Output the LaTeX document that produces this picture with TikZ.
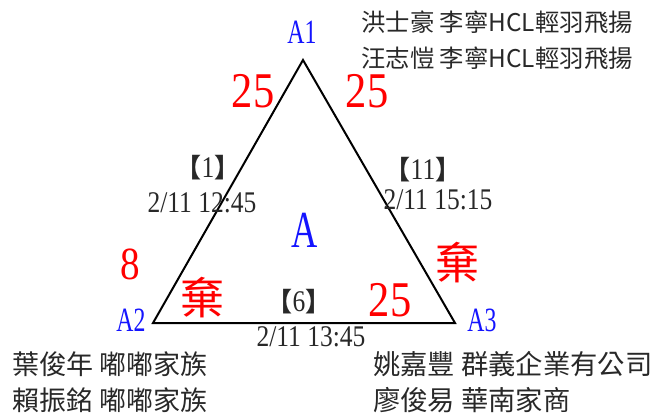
\documentclass[tikz,border=0pt]{standalone}
\usepackage{fontspec}
\setmainfont{Liberation Serif}
\newfontfamily\numfont[FakeStretch=0.85]{Liberation Serif}
\newfontfamily\tagfont[FakeStretch=0.7]{Liberation Serif}
\newfontfamily\cjkfont{Noto Sans CJK TC}
\usetikzlibrary{positioning}
\definecolor{scorered}{RGB}{255,0,0}
\definecolor{seatblue}{RGB}{20,20,255}
\definecolor{inkgray}{RGB}{40,40,40}
\newcommand\gnum[1]{{\cjkfont\bfseries\fontsize{26}{26}\selectfont 【}#1{\cjkfont\bfseries\fontsize{26}{26}\selectfont 】}}
\tikzset{
    score/.style={
        text=scorered,inner sep=0pt,
        font=\numfont\fontsize{50}{50}\selectfont
    },
    seat/.style={
        text=seatblue,inner sep=0pt,
        font=\tagfont\fontsize{34}{34}\selectfont
    },
    forfeit/.style={
        text=scorered,inner sep=0pt,
        font=\cjkfont\fontsize{44}{44}\selectfont
    },
    gametime/.style={
        text=inkgray,inner sep=0pt,
        font=\numfont\fontsize{30}{30}\selectfont
    },
    player/.style={
        text=inkgray,inner sep=0pt,anchor=base west,
        font=\cjkfont\fontsize{#1}{#1}\selectfont
    },
    player/.default=24.4,
    edge/.style={
        draw=black,line width=2pt
    }
}

\begin{document}
\begin{tikzpicture}[x=1pt,y=-1pt]
\useasboundingbox (0,0) rectangle (654,416);

\coordinate (a1) at (303,60);
\coordinate (a2) at (153,323);
\coordinate (a3) at (455,323);
\draw[edge] (a1) -- (a2) -- (a3) -- cycle;

\node[seat] (seatA1) at (302,32) {A1};
\node[seat] (seatA2) at (131,320) {A2};
\node[seat] (seatA3) at (482,320) {A3};
\node[seat,font=\tagfont\fontsize{52}{52}\selectfont] (table) at (305,230) {A};

\node[score] (s12) at (253,91) {25};
\node[score] (s13) at (367,91) {25};
\node[score,font=\numfont\fontsize{46}{46}\selectfont] (s21) at (130,264) {8};
\node[forfeit] (s23) at (202,298) {棄};
\node[forfeit] (s31) at (457,263) {棄};
\node[score] (s32) at (390,300) {25};

\node[gametime] (g1) at (208,168) {\gnum{1}};
\node[gametime] (t1) at (202,203) {2/11 12:45};
\node[gametime] (g11) at (423,170) {\gnum{11}};
\node[gametime] (t11) at (438,200) {2/11 15:15};
\node[gametime] (g6) at (299,302) {\gnum{6}};
\node[gametime] (t6) at (311,337) {2/11 13:45};

\node[player] (p1a) at (361,31) {洪士豪 李寧HCL輕羽飛揚};
\node[player] (p1b) at (361,67) {汪志愷 李寧HCL輕羽飛揚};
\node[player=27] (p2a) at (12,374) {葉俊年 嘟嘟家族};
\node[player=27] (p2b) at (12,410) {賴振銘 嘟嘟家族};
\node[player=27.3] (p3a) at (373,374) {姚嘉豐 群義企業有公司};
\node[player=27.3] (p3b) at (373,410) {廖俊易 華南家商};

\end{tikzpicture}
\end{document}
